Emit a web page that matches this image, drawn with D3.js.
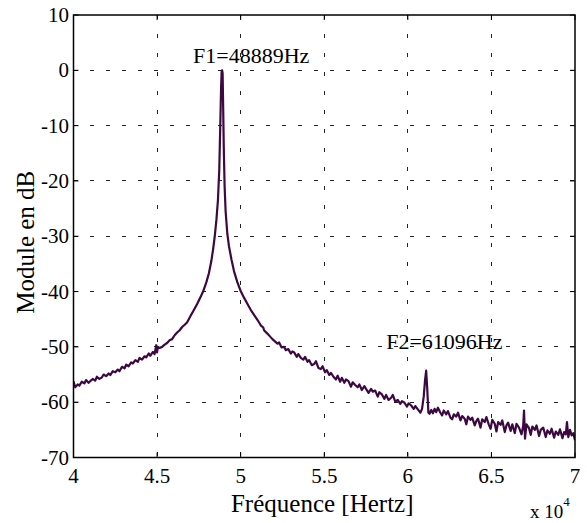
<!DOCTYPE html>
<html>
<head>
<meta charset="utf-8">
<script src="https://cdn.jsdelivr.net/npm/d3@7"></script>
<style>
  html, body { margin: 0; padding: 0; background: #ffffff; }
  svg { display: block; }
  text { font-family: "Liberation Serif", "Times New Roman", serif; fill: #000; }
</style>
</head>
<body>
<svg id="chart" width="587" height="523"></svg>
<script>
// ---- Data ----
const xTickValues = [40000, 45000, 50000, 55000, 60000, 65000, 70000];
const xTickLabels = ["4", "4.5", "5", "5.5", "6", "6.5", "7"];
const yTickValues = [10, 0, -10, -20, -30, -40, -50, -60, -70];
const yTickLabels = ["10", "0", "-10", "-20", "-30", "-40", "-50", "-60", "-70"];

const peakFreqs = [48889, 61096];
const peakLabels = ["F1=48889Hz", "F2=61096Hz"];
const peakLabelDb = [0, -54.3];

// [frequency in Hz, module in dB]
const spectrumPoints = [
  [40000,-56.2],[40100,-57.3],[40250,-56.8],[40350,-57.0],[40500,-56.3],[40650,-56.6],
  [40750,-56.0],[40900,-56.5],[41000,-56.2],[41150,-55.8],[41300,-56.1],[41400,-55.4],
  [41550,-55.8],[41700,-55.5],[41800,-55.0],[41950,-55.3],[42100,-54.8],[42200,-55.1],
  [42350,-54.4],[42500,-54.6],[42650,-54.1],[42750,-54.4],[42900,-53.6],[43050,-53.9],
  [43150,-53.2],[43300,-53.5],[43450,-52.8],[43550,-53.0],[43700,-52.4],[43850,-52.7],
  [43950,-52.0],[44100,-52.3],[44250,-51.7],[44350,-51.9],[44500,-51.2],[44600,-51.6],
  [44750,-50.9],[44850,-51.3],[44950,-49.7],[45000,-51.0],[45050,-50.0],[45150,-50.2],
  [45300,-50.0],[45450,-49.6],[45600,-49.3],[45750,-48.8],[45900,-48.6],[46050,-47.9],
  [46200,-47.4],[46350,-47.0],[46500,-46.4],[46650,-46.0],[46790,-45.6],[47000,-44.4],
  [47150,-43.6],[47390,-42.3],[47600,-41.0],[47750,-40.0],[47950,-38.3],[48100,-36.7],
  [48250,-34.4],[48350,-32.4],[48450,-30.0],[48550,-27.0],[48640,-23.5],[48720,-18.0],
  [48780,-10.0],[48830,-3.0],[48860,-0.3],[48889,0.0],[48920,-0.5],[48950,-6.0],
  [48990,-14.0],[49040,-21.0],[49100,-25.5],[49200,-29.5],[49300,-31.8],[49450,-34.2],
  [49600,-36.3],[49800,-38.3],[50000,-39.9],[50200,-41.1],[50400,-42.2],[50600,-43.3],
  [50800,-44.2],[51000,-45.1],[51200,-46.1],[51350,-46.5],[51400,-47.0],[51600,-47.6],
  [51750,-48.1],[51900,-48.6],[52050,-49.0],[52200,-49.4],[52300,-49.2],[52450,-50.1],
  [52600,-50.0],[52700,-50.6],[52850,-50.4],[53000,-51.2],[53100,-50.8],[53200,-51.0],
  [53350,-51.8],[53450,-51.3],[53600,-52.0],[53750,-52.3],[53850,-51.8],[54000,-52.7],
  [54100,-52.4],[54250,-53.3],[54400,-53.1],[54500,-52.6],[54650,-53.8],[54800,-54.0],
  [54900,-53.5],[55050,-54.6],[55150,-54.2],[55300,-55.1],[55400,-54.7],[55550,-55.4],
  [55700,-55.9],[55800,-55.2],[55950,-56.3],[56050,-55.6],[56200,-56.5],[56300,-55.9],
  [56450,-56.2],[56600,-57.2],[56700,-56.4],[56850,-56.9],[57000,-57.3],[57100,-56.8],
  [57250,-57.8],[57400,-57.1],[57500,-57.6],[57650,-58.3],[57800,-57.6],[57900,-58.1],
  [58050,-57.9],[58200,-59.0],[58300,-58.2],[58450,-58.6],[58600,-59.4],[58700,-58.7],
  [58850,-59.6],[59000,-59.2],[59100,-58.7],[59250,-59.9],[59400,-59.6],[59550,-60.3],
  [59650,-59.8],[59800,-60.1],[59950,-60.8],[60050,-60.2],[60200,-60.6],[60350,-61.2],
  [60450,-60.7],[60600,-61.3],[60750,-61.9],[60850,-61.2],[60950,-59.0],[61030,-56.0],
  [61096,-54.3],[61160,-57.5],[61230,-61.9],[61300,-62.1],[61400,-61.4],[61500,-62.0],
  [61600,-61.2],[61700,-61.8],[61800,-61.0],[61950,-61.9],[62050,-62.4],[62150,-61.5],
  [62300,-62.2],[62400,-61.6],[62550,-62.8],[62650,-63.1],[62750,-62.2],[62900,-62.6],
  [63000,-61.9],[63150,-63.3],[63250,-62.5],[63400,-63.0],[63500,-64.0],[63600,-62.6],
  [63750,-63.2],[63850,-62.8],[64000,-64.2],[64100,-63.4],[64200,-63.0],[64350,-64.6],
  [64450,-63.1],[64600,-63.6],[64700,-62.7],[64850,-64.1],[64950,-64.8],[65050,-63.2],
  [65200,-63.9],[65300,-65.3],[65400,-63.6],[65550,-64.1],[65650,-63.3],[65800,-65.4],
  [65900,-64.2],[66000,-63.7],[66150,-65.2],[66250,-64.0],[66400,-65.6],[66500,-63.9],
  [66650,-64.6],[66800,-65.8],[66900,-64.3],[66950,-61.5],[67010,-66.6],[67100,-64.0],
  [67250,-64.7],[67350,-65.9],[67450,-64.4],[67600,-65.0],[67700,-64.2],[67850,-66.1],
  [67950,-65.0],[68100,-64.6],[68250,-66.3],[68350,-65.1],[68500,-65.7],[68600,-64.8],
  [68750,-66.4],[68850,-65.3],[69000,-65.9],[69100,-64.9],[69250,-66.5],[69350,-65.4],
  [69450,-65.8],[69520,-63.6],[69600,-66.3],[69700,-65.0],[69800,-66.0],[69900,-65.6],
  [70000,-66.9]
];

// ---- Layout ----
const W = 587, H = 523;
const plot = { left: 73.5, right: 575, top: 15, bottom: 457.5 };

const svg = d3.select("#chart");

const x = d3.scaleLinear().domain([40000, 70000]).range([plot.left, plot.right]);
const y = d3.scaleLinear().domain([-70, 10]).range([plot.bottom, plot.top]);

// Grid lines
const grid = svg.append("g").attr("class", "grid");
grid.selectAll("line.vg")
  .data(xTickValues.slice(1, -1))
  .join("line")
  .attr("x1", d => x(d)).attr("x2", d => x(d))
  .attr("y1", plot.top).attr("y2", plot.bottom)
  .attr("stroke", "#222").attr("stroke-width", 1)
  .attr("stroke-dasharray", "4,15")
  .attr("shape-rendering", "crispEdges");
grid.selectAll("line.hg")
  .data(yTickValues.slice(1, -1))
  .join("line")
  .attr("x1", plot.left).attr("x2", plot.right)
  .attr("y1", d => y(d)).attr("y2", d => y(d))
  .attr("stroke", "#222").attr("stroke-width", 1)
  .attr("stroke-dasharray", "4,12")
  .attr("shape-rendering", "crispEdges");

// Inner tick marks (on all four sides)
const tickLen = 5;
const ticks = svg.append("g").attr("stroke", "#000").attr("stroke-width", 1);
xTickValues.forEach(v => {
  ticks.append("line").attr("x1", x(v)).attr("x2", x(v))
    .attr("y1", plot.bottom).attr("y2", plot.bottom - tickLen);
  ticks.append("line").attr("x1", x(v)).attr("x2", x(v))
    .attr("y1", plot.top).attr("y2", plot.top + tickLen);
});
yTickValues.forEach(v => {
  ticks.append("line").attr("x1", plot.left).attr("x2", plot.left + tickLen)
    .attr("y1", y(v)).attr("y2", y(v));
  ticks.append("line").attr("x1", plot.right).attr("x2", plot.right - tickLen)
    .attr("y1", y(v)).attr("y2", y(v));
});

// Clip path
svg.append("defs").append("clipPath").attr("id", "clip")
  .append("rect")
  .attr("x", plot.left).attr("y", plot.top)
  .attr("width", plot.right - plot.left).attr("height", plot.bottom - plot.top);

// Spectrum line
const line = d3.line().x(d => x(d[0])).y(d => y(d[1]));
svg.append("path")
  .datum(spectrumPoints)
  .attr("clip-path", "url(#clip)")
  .attr("fill", "none")
  .attr("stroke", "#3d0842")
  .attr("stroke-width", 2.2)
  .attr("stroke-linejoin", "round")
  .attr("d", line);

// Axes box
svg.append("rect")
  .attr("x", plot.left).attr("y", plot.top)
  .attr("width", plot.right - plot.left).attr("height", plot.bottom - plot.top)
  .attr("fill", "none").attr("stroke", "#000").attr("stroke-width", 1.5);

// X tick labels
svg.append("g").selectAll("text")
  .data(xTickValues)
  .join("text")
  .attr("x", d => x(d))
  .attr("y", 483)
  .attr("text-anchor", "middle")
  .attr("font-size", 21)
  .text((d, i) => xTickLabels[i]);

// Y tick labels
svg.append("g").selectAll("text")
  .data(yTickValues)
  .join("text")
  .attr("x", 69)
  .attr("y", d => y(d) + 7)
  .attr("text-anchor", "end")
  .attr("font-size", 21)
  .text((d, i) => yTickLabels[i]);

// Axis labels
svg.append("text")
  .attr("x", (plot.left + plot.right) / 2 - 2)
  .attr("y", 512)
  .attr("text-anchor", "middle")
  .attr("font-size", 25)
  .text("Fréquence [Hertz]");

svg.append("text")
  .attr("transform", "translate(34," + ((plot.top + plot.bottom) / 2 + 6) + ") rotate(-90)")
  .attr("text-anchor", "middle")
  .attr("font-size", 25)
  .text("Module en dB");

// Exponent label
const expo = svg.append("text")
  .attr("x", 530)
  .attr("y", 518)
  .attr("font-size", 19);
expo.append("tspan").text("x 10");
expo.append("tspan").attr("dy", -12).attr("font-size", 13).text("4");

// Peak annotations
svg.append("g").selectAll("text")
  .data(peakFreqs)
  .join("text")
  .attr("x", (d, i) => i === 0 ? x(d) - 29 : x(d) - 40)
  .attr("y", (d, i) => y(peakLabelDb[i]) - (i === 0 ? 7 : 22))
  .attr("font-size", 22)
  .text((d, i) => peakLabels[i]);
</script>
</body>
</html>
